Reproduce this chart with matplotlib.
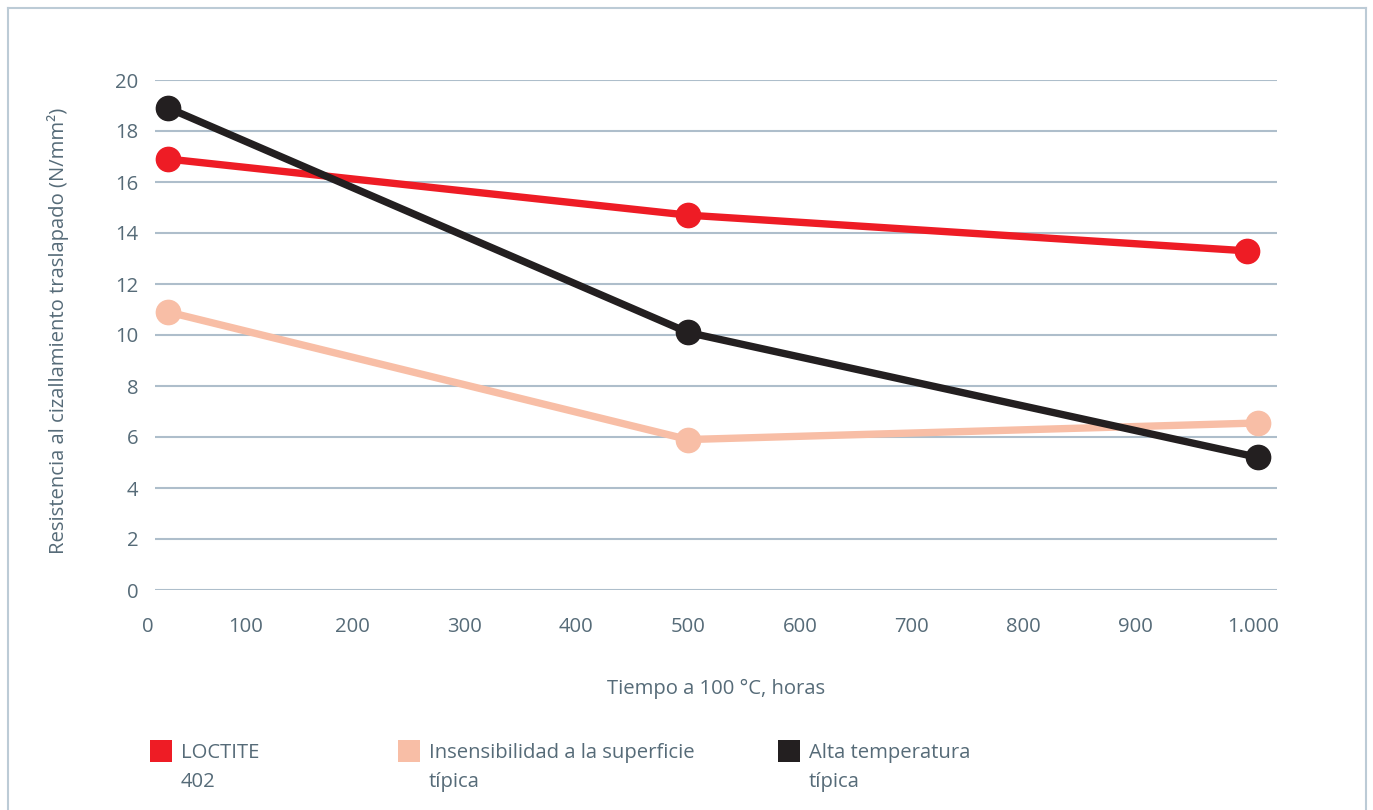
import matplotlib
matplotlib.use("Agg")
import matplotlib.pyplot as plt
from matplotlib.patches import Rectangle
from matplotlib.lines import Line2D

# Shear strength vs. ageing time at 100 °C
series_names = ["LOCTITE\n402", "Insensibilidad a la superficie\ntípica", "Alta temperatura\ntípica"]
series_colors = ["#ee1c25", "#f8bea6", "#231f20"]
hours_loctite = [35, 500, 1000]
hours_surface = [35, 500, 1010]
hours_hightemp = [35, 500, 1010]
strength_loctite = [16.9, 14.7, 13.3]
strength_surface = [10.9, 5.9, 6.55]
strength_hightemp = [18.9, 10.1, 5.2]

x_ticks = [0, 100, 200, 300, 400, 500, 600, 700, 800, 900, 1000]
x_tick_labels = ["0", "100", "200", "300", "400", "500", "600", "700", "800", "900", "1.000"]
y_ticks = [0, 2, 4, 6, 8, 10, 12, 14, 16, 18, 20]

TEXT = "#566b78"
GRID = "#aebecb"
FS = 14.6
plt.rcParams["font.family"] = ["Open Sans", "DejaVu Sans"]

W, H = 1373, 810
fig = plt.figure(figsize=(W / 100, H / 100), dpi=100)
fig.patch.set_facecolor("white")

# outer frame (open at the bottom)
frame_kw = dict(color="#bccbd6", lw=1.5, transform=fig.transFigure)
fig.add_artist(Line2D([8 / W, 8 / W], [0, 1 - 8 / H], **frame_kw))
fig.add_artist(Line2D([8 / W, 1366 / W], [1 - 8 / H, 1 - 8 / H], **frame_kw))
fig.add_artist(Line2D([1366 / W, 1366 / W], [0, 1 - 8 / H], **frame_kw))

ax = fig.add_axes([155 / W, 1 - 590 / H, (1277 - 155) / W, (590 - 80) / H])
ax.set_xlim(23, 1027)
ax.set_ylim(0, 20)
for s in ax.spines.values():
    s.set_visible(False)
ax.set_xticks([])
ax.set_yticks(y_ticks)
ax.set_yticklabels([str(v) for v in y_ticks])
ax.tick_params(axis="y", length=0, pad=12, labelsize=FS, labelcolor=TEXT)
ax.grid(axis="y", color=GRID, lw=1.5)
ax.set_axisbelow(True)

# x tick labels sit below the plot, including the 0 that lies left of the grid
label_shift = {0: 17, 100: 4, 1000: 6}
for v, lab in zip(x_ticks, x_tick_labels):
    ax.text(v + label_shift.get(v, 0), -37 / 25.5, lab, ha="center", va="center",
            fontsize=FS, color=TEXT, clip_on=False)

series = [
    (hours_loctite, strength_loctite),
    (hours_surface, strength_surface),
    (hours_hightemp, strength_hightemp),
]
for (xs, ys), c in zip(series, series_colors):
    ax.plot(xs, ys, color=c, lw=5.3, marker="o", ms=17.5, clip_on=False,
            solid_capstyle="round", zorder=3)

ax.text(0.5, -99 / 510, "Tiempo a 100 °C, horas", transform=ax.transAxes,
        ha="center", va="center", fontsize=FS, color=TEXT)
fig.text(58 / W, 1 - 331 / H, "Resistencia al cizallamiento traslapado (N/mm²)",
         rotation=90, ha="center", va="center", fontsize=FS, color=TEXT)

# legend
legend_x = [150, 398, 778]
for lx, name, c in zip(legend_x, series_names, series_colors):
    fig.add_artist(Rectangle((lx / W, 1 - 762 / H), 22 / W, 22 / H,
                             transform=fig.transFigure, facecolor=c, edgecolor="none"))
    fig.text((lx + 31) / W, 1 - 743 / H, name, ha="left", va="top",
             fontsize=FS, color=TEXT, linespacing=1.62)

fig.savefig("out.png", dpi=100)
